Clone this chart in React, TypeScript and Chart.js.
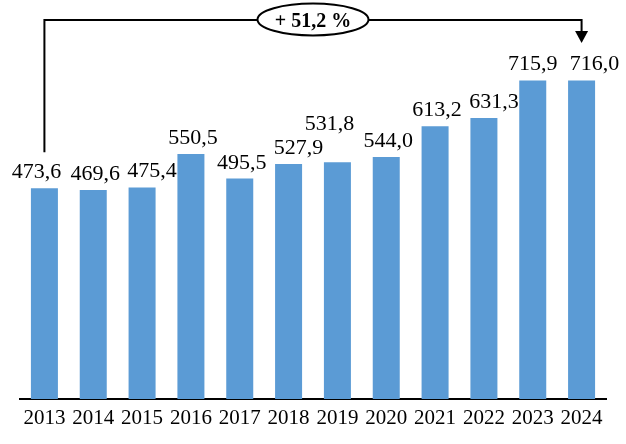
import React, { useEffect, useRef } from "react";
import { Chart, registerables } from "chart.js";

Chart.register(...registerables);

const years = ["2013", "2014", "2015", "2016", "2017", "2018", "2019", "2020", "2021", "2022", "2023", "2024"];
const values = [473.6, 469.6, 475.4, 550.5, 495.5, 527.9, 531.8, 544.0, 613.2, 631.3, 715.9, 716.0];
const yMin = 0;
const yMax = 800;

// label nudges (style only), px
const labelDx = [-8, 2, 10, 2, 2, 10, -8, 2, 2, 10, 0, 13];
const labelDy = [0, 0, 0, 0, 0, 0, -22, 0, 0, 0, 0, 0];

const BAR_COLOR = "#5B9BD5";
const FONT = "'Liberation Serif', 'Times New Roman', serif";

const fmt = (v: number) => v.toFixed(1).replace(".", ",");

const labelsPlugin = {
  id: "valueLabels",
  afterDatasetsDraw(chart: any) {
    const ctx = chart.ctx;
    const meta = chart.getDatasetMeta(0);
    ctx.save();
    ctx.font = `22px ${FONT}`;
    ctx.fillStyle = "#000";
    ctx.textAlign = "center";
    ctx.textBaseline = "alphabetic";
    meta.data.forEach((bar: any, i: number) => {
      ctx.fillText(fmt(values[i]), bar.x + labelDx[i], bar.y - 10 + labelDy[i]);
    });
    ctx.restore();
  },
};

const arrowPlugin = {
  id: "growthArrow",
  afterDraw(chart: any) {
    const ctx = chart.ctx;
    const xs = chart.scales.x;
    const ys = chart.scales.y;
    const area = chart.chartArea;
    const n = values.length;
    const x0 = xs.getPixelForValue(0);
    const x1 = xs.getPixelForValue(n - 1);
    const yStart = ys.getPixelForValue(values[0]) - 36;
    const yTop = area.top - 23;
    const tipY = area.top;
    const headH = 12;
    const headW = 6.5;
    ctx.save();
    ctx.strokeStyle = "#000";
    ctx.lineWidth = 2;
    ctx.beginPath();
    ctx.moveTo(x0, yStart);
    ctx.lineTo(x0, yTop);
    ctx.lineTo(x1, yTop);
    ctx.lineTo(x1, tipY - headH + 1);
    ctx.stroke();
    ctx.fillStyle = "#000";
    ctx.beginPath();
    ctx.moveTo(x1 - headW, tipY - headH);
    ctx.lineTo(x1 + headW, tipY - headH);
    ctx.lineTo(x1, tipY);
    ctx.closePath();
    ctx.fill();
    // ellipse
    const cx = (x0 + x1) / 2;
    const cy = yTop - 0.5;
    ctx.beginPath();
    ctx.ellipse(cx, cy, 55.5, 16, 0, 0, Math.PI * 2);
    ctx.fillStyle = "#fff";
    ctx.fill();
    ctx.stroke();
    const growth = (values[n - 1] / values[0] - 1) * 100;
    ctx.fillStyle = "#000";
    ctx.font = `bold 20px ${FONT}`;
    ctx.textAlign = "center";
    ctx.textBaseline = "alphabetic";
    ctx.fillText(`+ ${fmt(growth)} %`, cx, cy + 7);
    ctx.restore();
  },
};

export default function App() {
  const ref = useRef<HTMLCanvasElement>(null);
  useEffect(() => {
    if (!ref.current) return;
    const chart = new Chart(ref.current, {
      type: "bar",
      data: {
        labels: years,
        datasets: [
          {
            data: values,
            backgroundColor: BAR_COLOR,
            borderWidth: 0,
            barPercentage: 1,
            categoryPercentage: 0.553,
          },
        ],
      },
      options: {
        animation: false,
        responsive: false,
        maintainAspectRatio: false,
        devicePixelRatio: 1,
        layout: { padding: { left: 20, right: 20, top: 43, bottom: 0 } },
        plugins: { legend: { display: false }, tooltip: { enabled: false } },
        scales: {
          x: {
            grid: { display: false, drawTicks: false },
            border: { display: true, color: "#000", width: 2 },
            ticks: {
              color: "#000",
              font: { family: FONT, size: 21 },
              padding: 7,
              maxRotation: 0,
              autoSkip: false,
            },
            afterFit: (s: any) => {
              s.height = 45;
            },
          },
          y: {
            display: false,
            min: yMin,
            max: yMax,
          },
        },
      },
      plugins: [labelsPlugin, arrowPlugin],
    });
    return () => chart.destroy();
  }, []);
  return (
    <div style={{ position: "fixed", left: 0, top: 0, width: 626, height: 444, background: "#fff" }}>
      <canvas ref={ref} width={626} height={444} />
    </div>
  );
}
